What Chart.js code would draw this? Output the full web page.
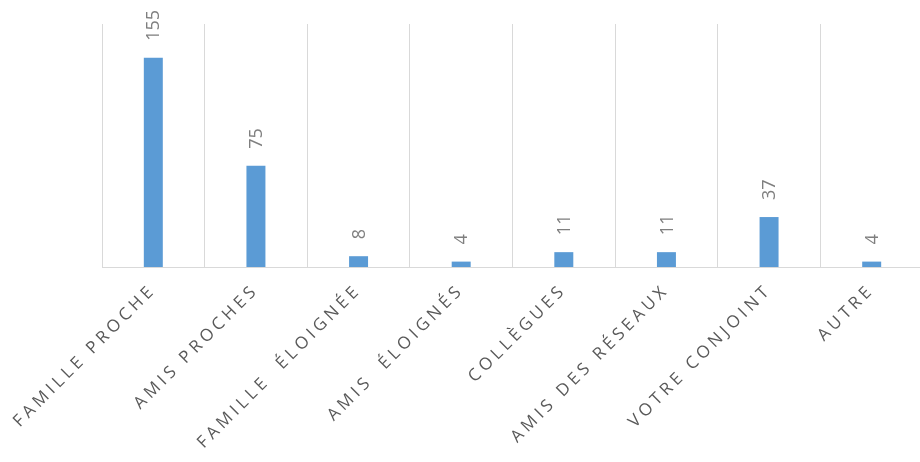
<!DOCTYPE html>
<html>
<head>
<meta charset="utf-8">
<script src="https://cdn.jsdelivr.net/npm/chart.js@4/dist/chart.umd.min.js"></script>
<style>
  html, body { margin: 0; padding: 0; background: #fff; overflow: hidden; }
  #wrap { width: 920px; height: 462px; overflow: hidden; }
</style>
</head>
<body>
<div id="wrap"><canvas id="c" width="924" height="462" style="width:924px;height:462px"></canvas></div>
<script>
const categories = ["FAMILLE PROCHE", "AMIS PROCHES", "FAMILLE  ÉLOIGNÉE", "AMIS  ÉLOIGNÉS", "COLLÈGUES", "AMIS DES RÉSEAUX", "VOTRE CONJOINT", "AUTRE"];
const values = [155, 75, 8, 4, 11, 11, 37, 4];
const yMax = 180;

const letterSpacingPlugin = {
  id: 'letterSpacing',
  beforeDraw(chart) { chart.ctx.letterSpacing = '4px'; },
  afterDraw(chart) { chart.ctx.letterSpacing = '0px'; }
};

const valueLabels = {
  id: 'valueLabels',
  afterDatasetsDraw(chart) {
    const ctx = chart.ctx;
    const meta = chart.getDatasetMeta(0);
    ctx.save();
    ctx.letterSpacing = '0px';
    ctx.font = '18px "Open Sans", sans-serif';
    ctx.fillStyle = '#7f7f7f';
    ctx.textAlign = 'left';
    ctx.textBaseline = 'middle';
    meta.data.forEach((bar, i) => {
      ctx.save();
      ctx.translate(bar.x + 1, bar.y - 17);
      ctx.rotate(-Math.PI / 2);
      ctx.fillText(String(values[i]), 0, 0);
      ctx.restore();
    });
    ctx.restore();
  }
};

new Chart(document.getElementById('c'), {
  type: 'bar',
  data: {
    labels: categories,
    datasets: [{
      data: values,
      backgroundColor: '#5b9bd5',
      borderWidth: 0,
      categoryPercentage: 1,
      barPercentage: 0.185
    }]
  },
  options: {
    responsive: false,
    animation: false,
    layout: { padding: { left: 102, right: 1, top: 24, bottom: 0 } },
    plugins: { legend: { display: false }, tooltip: { enabled: false } },
    scales: {
      x: {
        offset: true,
        grid: { display: true, offset: true, color: '#d9d9d9', lineWidth: 1, tickLength: 0, drawTicks: false },
        border: { display: true, color: '#d9d9d9', width: 1 },
        ticks: {
          color: '#595959',
          font: { family: '"Open Sans", sans-serif', size: 17 },
          minRotation: 45, maxRotation: 45,
          padding: 13,
          autoSkip: false
        },
        afterFit(scale) { scale.height = 195; }
      },
      y: {
        display: false,
        min: 0,
        max: yMax
      }
    }
  },
  plugins: [letterSpacingPlugin, valueLabels]
});
</script>
</body>
</html>
